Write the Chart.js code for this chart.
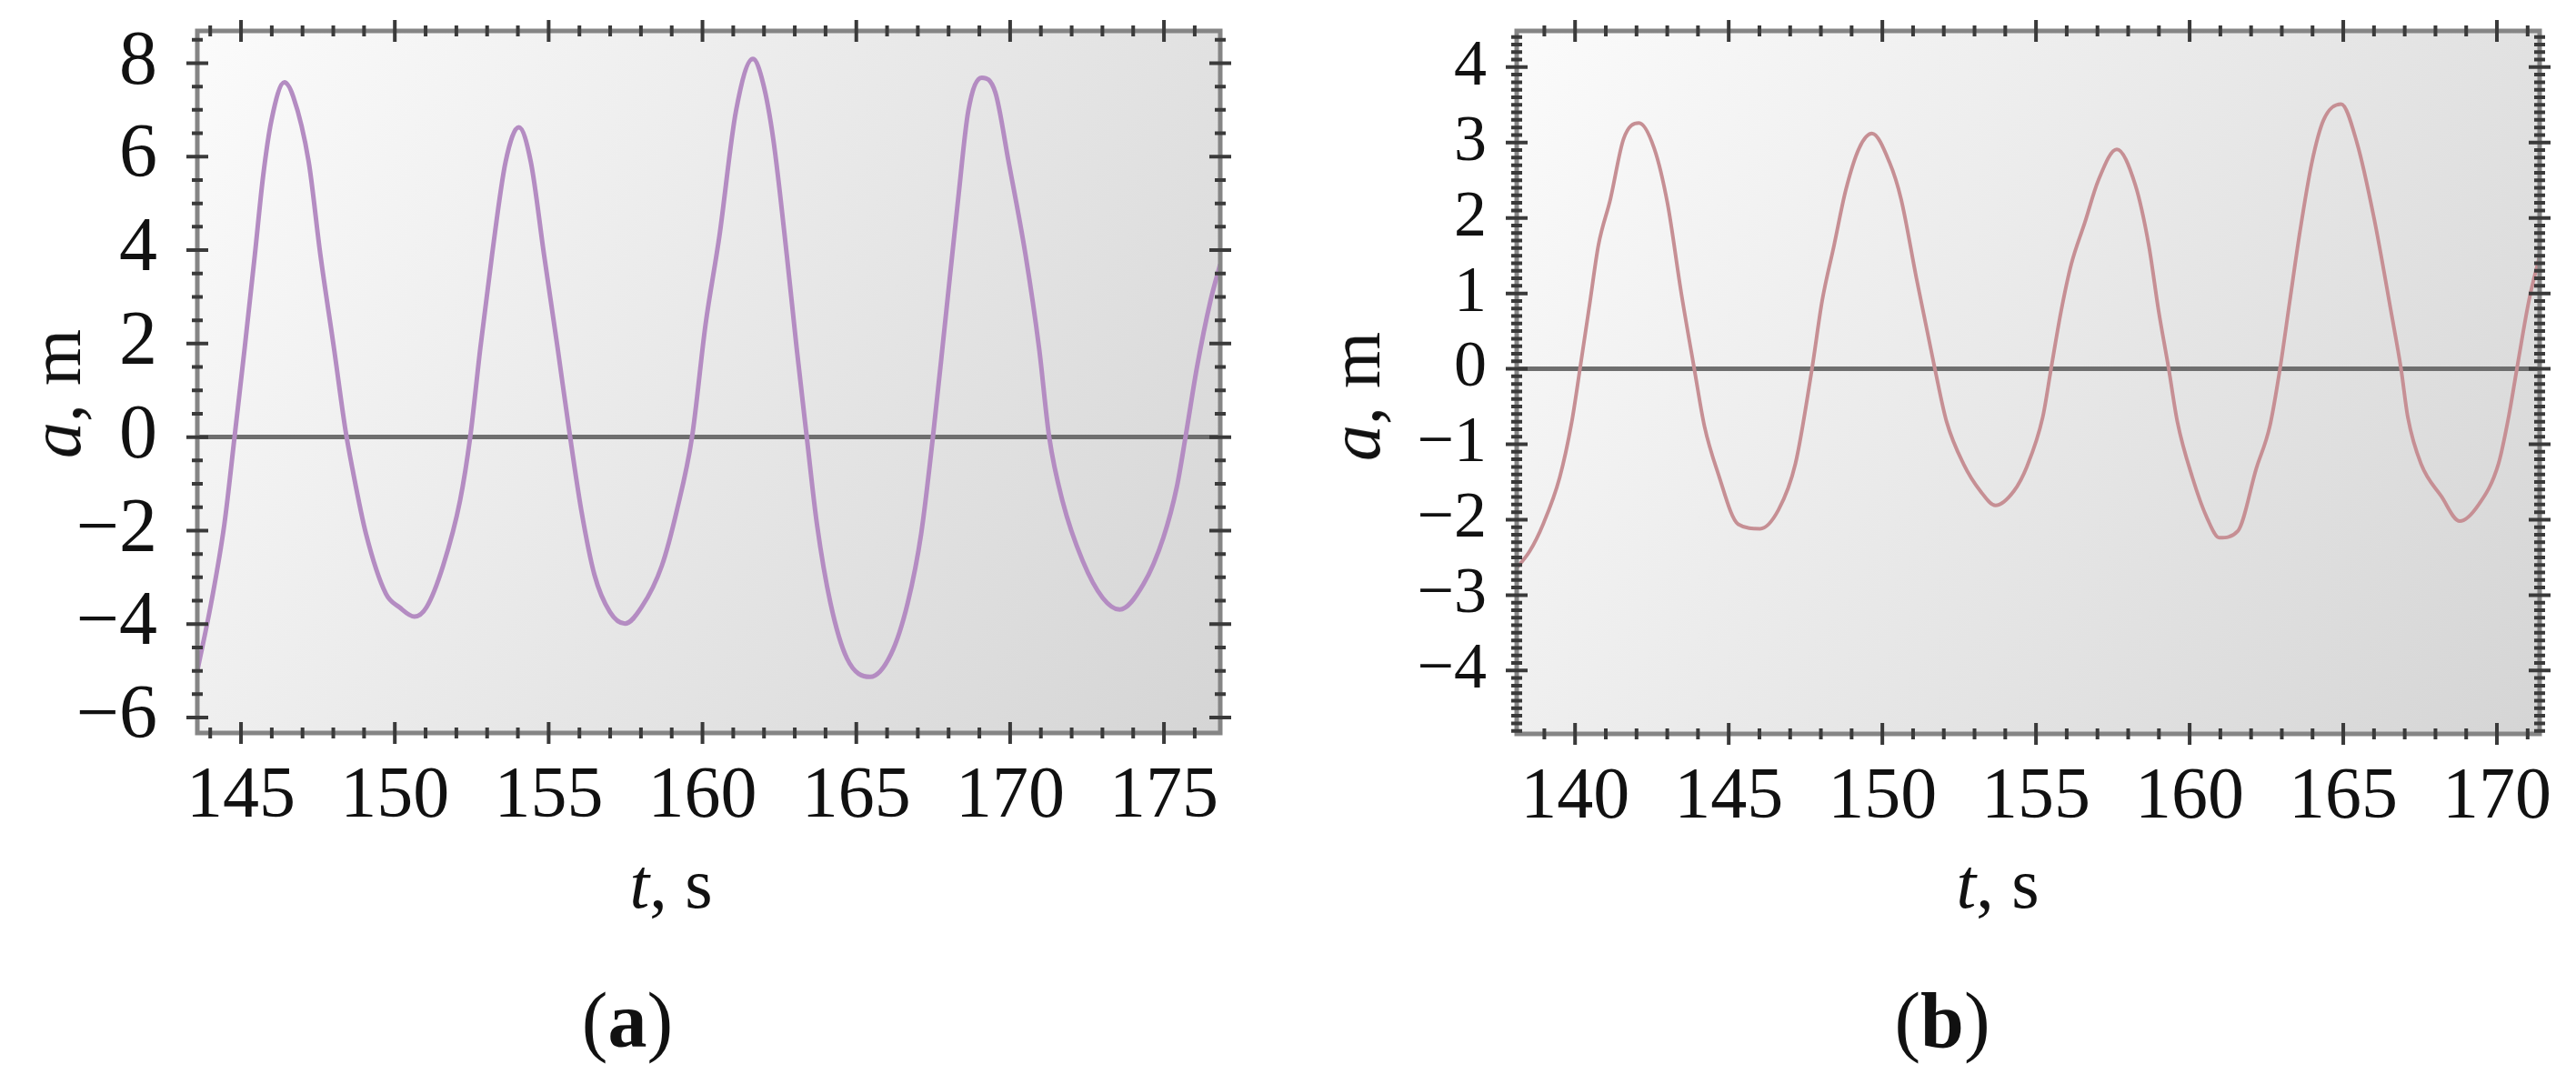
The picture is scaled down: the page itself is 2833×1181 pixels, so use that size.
<!DOCTYPE html>
<html>
<head>
<meta charset="utf-8">
<script src="https://cdn.jsdelivr.net/npm/chart.js@4.4.1/dist/chart.umd.min.js"></script>
<style>
  body { margin: 0; background: #fff; width: 2833px; height: 1181px; position: relative; overflow: hidden;
         font-family: "Liberation Serif", "DejaVu Serif", serif; color: #111; }
  canvas { position: absolute; top: 0; }
  .txt { position: absolute; white-space: nowrap; transform: translate(-50%, -50%); line-height: 1; }
  .ytitle { transform: translate(-50%, -50%) rotate(-90deg); }
</style>
</head>
<body>
<canvas id="chartA" width="1400" height="1020" style="left:0px"></canvas>
<canvas id="chartB" width="1413" height="1020" style="left:1420px"></canvas>

<div class="txt ytitle" style="left:61px; top:433px; font-size:80px"><i>a</i>, m</div>
<div class="txt ytitle" style="left:1490px; top:436px; font-size:80px"><i>a</i>, m</div>
<div class="txt" style="left:738px; top:972px; font-size:78px"><i>t</i>, s</div>
<div class="txt" style="left:2197px; top:972px; font-size:78px"><i>t</i>, s</div>
<div class="txt" style="left:690px; top:1122px; font-size:86px">(<b>a</b>)</div>
<div class="txt" style="left:2136px; top:1122px; font-size:86px">(<b>b</b>)</div>

<script>
// (a)
const timeA = [143.57, 144.03, 144.46, 144.79, 145.12, 145.45, 145.72, 145.99, 146.41, 146.7,
  147.2, 147.58, 148.02, 148.4, 148.62, 149.06, 149.71, 150.15, 150.64, 151.03,
  151.57, 152.12, 152.45, 152.78, 153.16, 153.6, 154.03, 154.42, 154.85, 155.29,
  155.67, 156.06, 156.49, 156.99, 157.48, 158.02, 158.68, 159.17, 159.66, 160.1,
  160.55, 161.09, 161.64, 161.97, 162.3, 162.74, 163.06, 163.39, 163.72, 164.16,
  164.7, 165.45, 166.13, 166.67, 167.11, 167.49, 167.88, 168.31, 168.64, 169.08,
  169.52, 169.95, 170.5, 170.94, 171.27, 171.7, 172.36, 173.01, 173.56, 174.33,
  174.98, 175.42, 175.7, 176.08, 176.51, 176.83];
const ampA = [-5.03, -3.55, -1.86, 0, 1.91, 3.9, 5.59, 6.78, 7.59, 7.28,
  5.89, 3.9, 1.91, 0.13, -0.67, -2.06, -3.35, -3.64, -3.84, -3.64,
  -2.75, -1.36, 0, 1.91, 3.9, 5.89, 6.63, 5.89, 3.9, 1.91,
  0.13, -1.56, -2.95, -3.74, -3.99, -3.64, -2.75, -1.56, 0, 2.41,
  4.3, 6.98, 8.09, 7.57, 6.38, 3.9, 1.91, 0, -1.86, -3.55,
  -4.74, -5.13, -4.64, -3.55, -2.06, 0, 2.41, 5.09, 6.98, 7.69,
  7.37, 5.89, 3.9, 1.91, 0, -1.36, -2.65, -3.44, -3.69, -3.15,
  -2.15, -1.06, 0, 1.52, 2.91, 3.7];
const xTicksA = [145, 150, 155, 160, 165, 170, 175];
const yTicksA = [-6, -4, -2, 0, 2, 4, 6, 8];

// (b)
const timeB = [138.1, 138.52, 138.96, 139.5, 139.89, 140.16, 140.49, 140.76, 141.15, 141.58,
  142.08, 142.57, 143.01, 143.45, 143.88, 144.21, 144.65, 145.31, 146.02, 146.62,
  147.17, 147.71, 148.04, 148.43, 148.81, 149.25, 149.66, 150.23, 150.61, 151.11,
  151.71, 152.09, 152.64, 153.19, 153.68, 154.28, 154.7, 155.22, 155.49, 155.82,
  156.15, 156.59, 157.03, 157.63, 158.23, 158.67, 158.99, 159.32, 159.6, 160.09,
  160.58, 160.97, 161.57, 162.17, 162.61, 162.94, 163.26, 163.59, 163.98, 164.36,
  164.93, 165.45, 166.0, 166.55, 166.88, 167.1, 167.53, 168.19, 168.79, 169.39,
  170.05, 170.38, 170.65, 171.04, 171.39];
const ampB = [-2.64, -2.42, -2.06, -1.44, -0.71, 0, 0.9, 1.64, 2.25, 3.05,
  3.26, 2.93, 2.19, 1.02, 0, -0.76, -1.38, -2.06, -2.12, -1.87,
  -1.26, 0, 0.9, 1.64, 2.37, 2.93, 3.12, 2.74, 2.25, 1.2,
  0, -0.7, -1.26, -1.62, -1.81, -1.62, -1.3, -0.64, 0, 0.77,
  1.39, 1.94, 2.5, 2.91, 2.44, 1.64, 0.77, 0, -0.7, -1.44,
  -1.99, -2.24, -2.15, -1.32, -0.76, 0, 0.9, 1.82, 2.74, 3.3,
  3.51, 2.99, 2.0, 0.77, 0, -0.64, -1.26, -1.69, -2.02, -1.81,
  -1.26, -0.64, 0, 0.9, 1.5];
const xTicksB = [140, 145, 150, 155, 160, 165, 170];
const yTicksB = [-4, -3, -2, -1, 0, 1, 2, 3, 4];

// gray gradient behind the plot
const bgPlugin = {
  id: 'plotBg',
  beforeDraw(chart) {
    const { ctx, chartArea: a } = chart;
    const g = ctx.createLinearGradient(a.left, a.top, a.right, a.bottom);
    g.addColorStop(0, '#fbfbfb');
    g.addColorStop(1, '#d5d5d5');
    ctx.save();
    ctx.fillStyle = g;
    ctx.fillRect(a.left, a.top, a.right - a.left, a.bottom - a.top);
    ctx.restore();
  }
};

// frame with major/minor ticks on all four sides
const framePlugin = {
  id: 'frameTicks',
  afterDraw(chart, args, opts) {
    const { ctx, chartArea: a, scales: { x, y } } = chart;
    ctx.save();
    ctx.strokeStyle = '#858585';
    ctx.lineWidth = 5;
    ctx.strokeRect(a.left, a.top, a.right - a.left, a.bottom - a.top);
    ctx.strokeStyle = '#3a3a3a';
    ctx.lineWidth = 4;
    ctx.beginPath();
    const n0 = Math.ceil(x.min / opts.xMinor - 1e-6), n1 = Math.floor(x.max / opts.xMinor + 1e-6);
    for (let k = n0; k <= n1; k++) {
      const v = k * opts.xMinor;
      const px = x.getPixelForValue(v);
      const h = Math.abs(v / opts.xMajor - Math.round(v / opts.xMajor)) < 1e-6 ? 12 : 6;
      ctx.moveTo(px, a.bottom - h); ctx.lineTo(px, a.bottom + h);
      ctx.moveTo(px, a.top - h); ctx.lineTo(px, a.top + h);
    }
    const m0 = Math.ceil(y.min / opts.yMinor - 1e-6), m1 = Math.floor(y.max / opts.yMinor + 1e-6);
    for (let k = m0; k <= m1; k++) {
      const v = k * opts.yMinor;
      const py = y.getPixelForValue(v);
      const h = Math.abs(v / opts.yMajor - Math.round(v / opts.yMajor)) < 1e-6 ? 12 : 6;
      ctx.moveTo(a.left - h, py); ctx.lineTo(a.left + h, py);
      ctx.moveTo(a.right - h, py); ctx.lineTo(a.right + h, py);
    }
    ctx.stroke();
    ctx.restore();
  }
};

function makeChart(id, t, amp, xTicks, yTicks, cfg) {
  return new Chart(document.getElementById(id), {
    type: 'line',
    data: {
      datasets: [{
        data: t.map((v, i) => ({ x: v, y: amp[i] })),
        borderColor: cfg.color,
        borderWidth: cfg.lineWidth,
        pointRadius: 0,
        cubicInterpolationMode: 'monotone'
      }]
    },
    options: {
      responsive: false,
      animation: false,
      layout: { padding: { top: 34, right: cfg.padRight, left: 0, bottom: 0 } },
      plugins: {
        legend: { display: false },
        tooltip: { enabled: false },
        frameTicks: cfg.ticks
      },
      scales: {
        x: {
          type: 'linear',
          min: cfg.xMin,
          max: cfg.xMax,
          afterBuildTicks: s => { s.ticks = xTicks.map(v => ({ value: v })); },
          afterFit: s => { s.height = cfg.xHeight; s.paddingLeft = 0; s.paddingRight = 0; },
          grid: { display: false },
          border: { display: false },
          ticks: {
            autoSkip: false,
            maxRotation: 0,
            padding: 15,
            color: '#111',
            font: { family: 'Liberation Serif', size: 80 }
          }
        },
        y: {
          min: cfg.yMin,
          max: cfg.yMax,
          afterBuildTicks: s => { s.ticks = yTicks.map(v => ({ value: v })); },
          afterFit: s => { s.width = cfg.yWidth; s.paddingTop = 0; s.paddingBottom = 0; },
          grid: {
            drawTicks: false,
            lineWidth: 5,
            color: c => c.tick && c.tick.value === 0 ? '#6e6e6e' : 'rgba(0,0,0,0)'
          },
          border: { display: false },
          ticks: {
            autoSkip: false,
            padding: cfg.yPad,
            color: '#111',
            font: { family: 'Liberation Serif', size: cfg.yFont },
            callback: v => String(v).replace('-', '\u2212')
          }
        }
      }
    },
    plugins: [bgPlugin, framePlugin]
  });
}

makeChart('chartA', timeA, ampA, xTicksA, yTicksA, {
  color: '#b48cc2', lineWidth: 5,
  xMin: 143.58, xMax: 176.83, yMin: -6.33, yMax: 8.69,
  padRight: 58, yWidth: 217, xHeight: 214, yPad: 44, yFont: 84,
  ticks: { xMinor: 1, xMajor: 5, yMinor: 0.5, yMajor: 2 }
});

makeChart('chartB', timeB, ampB, xTicksB, yTicksB, {
  color: '#c68f94', lineWidth: 4,
  xMin: 138.1, xMax: 171.39, yMin: -4.84, yMax: 4.48,
  padRight: 40, yWidth: 248, xHeight: 213, yPad: 33, yFont: 72,
  ticks: { xMinor: 1, xMajor: 5, yMinor: 0.1, yMajor: 1 }
});
</script>
</body>
</html>
